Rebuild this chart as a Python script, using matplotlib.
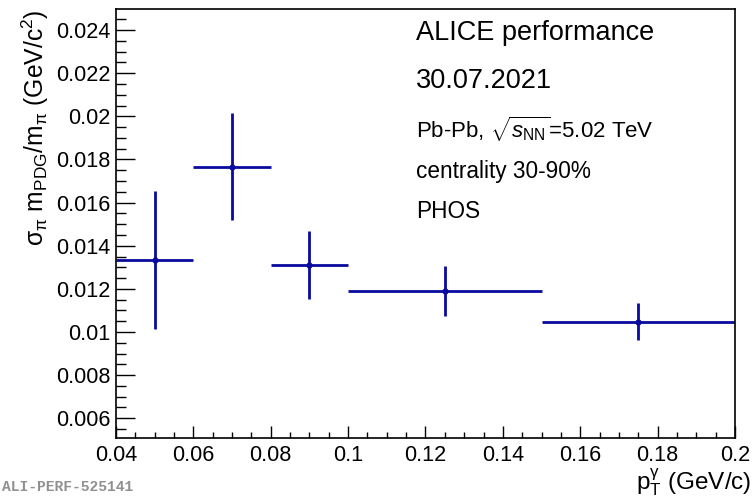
import matplotlib
matplotlib.use("Agg")
import matplotlib.pyplot as plt
from matplotlib.ticker import MultipleLocator, FixedFormatter, FixedLocator

plt.rcParams['font.family'] = ['Liberation Sans', 'DejaVu Sans']
plt.rcParams['mathtext.fontset'] = 'custom'
plt.rcParams['mathtext.rm'] = 'Liberation Sans'
plt.rcParams['mathtext.it'] = 'Liberation Sans:italic'
plt.rcParams['mathtext.sf'] = 'Liberation Sans'

# data
pt_center = [0.05, 0.07, 0.09, 0.125, 0.175]
pt_low = [0.04, 0.06, 0.08, 0.10, 0.15]
pt_high = [0.06, 0.08, 0.10, 0.15, 0.20]
width_ratio = [0.01335, 0.01766, 0.01312, 0.01192, 0.01048]
width_err = [0.0032, 0.00248, 0.00158, 0.00116, 0.00086]

x_ticks = [0.04, 0.06, 0.08, 0.1, 0.12, 0.14, 0.16, 0.18, 0.2]
x_ticklabels = ['0.04', '0.06', '0.08', '0.1', '0.12', '0.14', '0.16', '0.18', '0.2']
y_ticks = [0.006, 0.008, 0.01, 0.012, 0.014, 0.016, 0.018, 0.02, 0.022, 0.024]
y_ticklabels = ['0.006', '0.008', '0.01', '0.012', '0.014', '0.016', '0.018', '0.02', '0.022', '0.024']

color = '#0a0a9e'

fig = plt.figure(figsize=(7.54, 4.98), dpi=100)
ax = fig.add_axes([0.1538, 0.1211, 0.821, 0.8602])

xerr_lo = [c - l for c, l in zip(pt_center, pt_low)]
xerr_hi = [h - c for c, h in zip(pt_center, pt_high)]
ax.errorbar(pt_center, width_ratio, xerr=[xerr_lo, xerr_hi], yerr=width_err,
            fmt='o', color=color, ms=4.5, elinewidth=2, capsize=0, mew=0)

ax.set_xlim(0.04, 0.2)
ax.set_ylim(0.0051, 0.02496)

ax.xaxis.set_major_locator(FixedLocator(x_ticks))
ax.xaxis.set_major_formatter(FixedFormatter(x_ticklabels))
ax.yaxis.set_major_locator(FixedLocator(y_ticks))
ax.yaxis.set_major_formatter(FixedFormatter(y_ticklabels))
ax.xaxis.set_minor_locator(MultipleLocator(0.005))
ax.yaxis.set_minor_locator(MultipleLocator(0.0005))

ax.tick_params(axis='both', which='both', direction='in', top=False, right=False,
               labelsize=15.6, colors='black', width=1.0)
ax.tick_params(axis='y', which='major', length=14, pad=4)
ax.tick_params(axis='y', which='minor', length=7.2)
ax.tick_params(axis='x', which='major', length=8.5, pad=5)
ax.tick_params(axis='x', which='minor', length=4.5)
for s in ax.spines.values():
    s.set_linewidth(1.2)

fig.text(0.047, 0.981, r'$\mathrm{\sigma}_{\mathrm{\pi}}$ m$_{\rm PDG}$/m$_{\mathrm{\pi}}$ (GeV/c$^{2}$)',
         rotation=90, ha='center', va='top', fontsize=17.7)
fig.text(0.997, 0.018, r'p$_{\rm T}^{\mathrm{\gamma}}$ (GeV/c)', ha='right', va='baseline', fontsize=17.5)

fig.text(0.552, 0.934, 'ALICE performance', fontsize=19.5, ha='left', va='center')
fig.text(0.552, 0.838, '30.07.2021', fontsize=19.5, ha='left', va='center')
fig.text(0.552, 0.741, r'Pb-Pb, $\sqrt{s_{\rm NN}}$=5.02 TeV', fontsize=16, ha='left', va='center')
fig.text(0.552, 0.655, 'centrality 30-90%', fontsize=16.3, ha='left', va='center')
fig.text(0.552, 0.576, 'PHOS', fontsize=16.3, ha='left', va='center')

fig.text(0.003, 0.008, 'ALI-PERF-525141', fontsize=10.5, family='Liberation Mono',
         weight='bold', color='#909090', ha='left', va='bottom')

fig.savefig('out.png', dpi=100)
